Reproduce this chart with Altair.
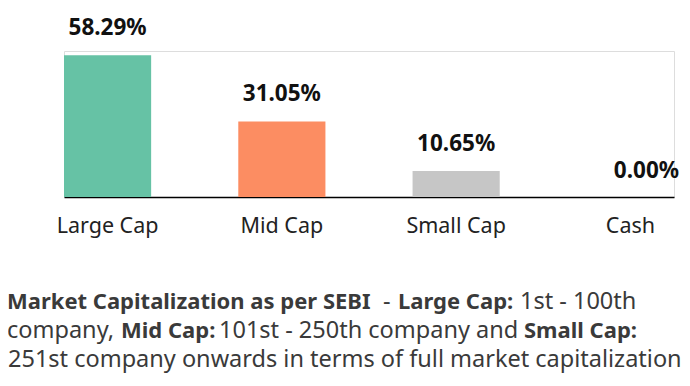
import altair as alt
import pandas as pd

# ---- data ----
categories = ["Large Cap", "Mid Cap", "Small Cap", "Cash"]
values = [58.29, 31.05, 10.65, 0.00]
colors = ["#66c2a5", "#fc8d62", "#c6c6c6", "#d9d9d9"]

foot_texts = [
    "Market Capitalization as per SEBI", "-", "Large Cap:", "1st - 100th",
    "company,", "Mid Cap:", "101st - 250th company and", "Small Cap:",
    "251st company onwards in terms of full market capitalization",
]
foot_bold = [True, False, True, False, False, True, False, True, False]
foot_line = [0, 0, 0, 0, 1, 1, 1, 1, 2]
# layout (pixel offsets of each segment inside the plot frame)
foot_x = [-57, 319, 334, 456, -57, 57, 155, 460, -56]
line_y = [258, 287, 316]

FONT = "Noto Sans"

df = pd.DataFrame({"cat": categories, "val": values,
                   "label": [f"{v:.2f}%" for v in values]})
foot = pd.DataFrame({"text": foot_texts, "bold": foot_bold,
                     "px": foot_x, "py": [line_y[i] for i in foot_line]})

x = alt.X("cat:N", sort=categories, title=None,
          scale=alt.Scale(paddingInner=0.5, paddingOuter=0),
          axis=alt.Axis(labelAngle=0, labelFont=FONT, labelFontSize=21.5,
                        labelColor="#222222", labelPadding=18, ticks=False,
                        domainColor="#000000", domainWidth=1.5))
y = alt.Y("val:Q", title=None, scale=alt.Scale(domain=[0, 60]), axis=None)

bars = alt.Chart(df).mark_bar().encode(
    x=x, y=y,
    color=alt.Color("cat:N", scale=alt.Scale(domain=categories, range=colors),
                    legend=None),
)

lab_main = alt.Chart(df).transform_filter(alt.datum.cat != "Cash").mark_text(
    font=FONT, fontSize=22.5, fontWeight="bold", color="#111111", dy=-20,
    baseline="alphabetic"
).encode(x=alt.X("cat:N", sort=categories), y="val:Q", text="label:N")

lab_cash = alt.Chart(df).transform_filter(alt.datum.cat == "Cash").mark_text(
    font=FONT, fontSize=22.5, fontWeight="bold", color="#111111", dy=-19, dx=16,
    baseline="alphabetic"
).encode(x=alt.X("cat:N", sort=categories), y="val:Q", text="label:N")

foot_bold_l = alt.Chart(foot).transform_filter(alt.datum.bold).mark_text(
    font=FONT, fontSize=22, fontWeight="bold", color="#3a3a3a",
    align="left", baseline="alphabetic"
).encode(x=alt.X("px:Q", scale=None), y=alt.Y("py:Q", scale=None), text="text:N")

foot_norm_l = alt.Chart(foot).transform_filter(~alt.datum.bold).mark_text(
    font=FONT, fontSize=23.5, color="#3a3a3a",
    align="left", baseline="alphabetic"
).encode(x=alt.X("px:Q", scale=None), y=alt.Y("py:Q", scale=None), text="text:N")

chart = alt.layer(bars, lab_main, lab_cash, foot_bold_l, foot_norm_l).resolve_scale(
    x="shared"
).properties(
    width=610, height=146,
    autosize=alt.AutoSizeParams(type="none"),
    padding={"left": 56, "top": 43, "right": 8, "bottom": 181},
).configure_view(stroke=None).configure(background="#ffffff")

chart.save("out.html", embed_options={"renderer": "svg", "actions": False})
